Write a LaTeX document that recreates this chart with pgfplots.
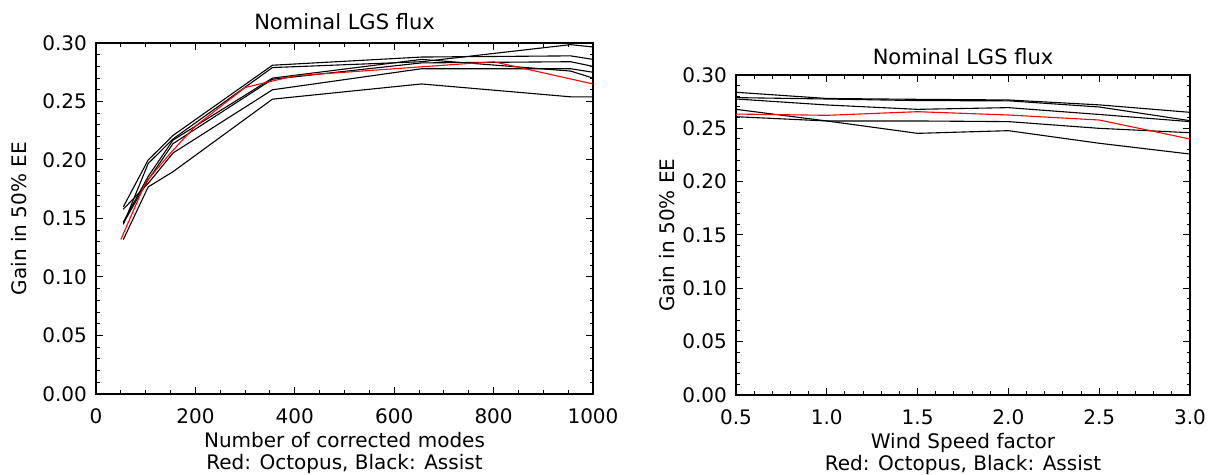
\documentclass[border=0pt]{standalone}
\usepackage{pgfplots}
\pgfplotsset{compat=1.18}
\usepackage{fontspec}
\setmainfont{DejaVu Sans}
\begin{document}
\begin{tikzpicture}
\useasboundingbox (0,0) rectangle (606pt,-237.5pt);
\pgfplotsset{
  idl/.style={
    scale only axis,
    anchor=south west,
    axis line style={line width=0.6pt},
    tick align=inside,
    major tick length=3.5pt,
    minor tick length=1.75pt,
    every tick/.style={black, line width=0.5pt},
    tick label style={font=\fontsize{10}{12}\selectfont},
    /pgf/number format/assume math mode=true,
    /pgf/number format/1000 sep={},
    ymin=0, ymax=0.30,
    ytick={0,0.05,...,0.30},
    minor ytick={0,0.01,...,0.30},
    yticklabel style={/pgf/number format/fixed,/pgf/number format/fixed zerofill,/pgf/number format/precision=2, xshift=-1pt},
    xticklabel style={yshift=-4pt},
    scaled y ticks=false,
    title style={font=\fontsize{10.5}{12}\selectfont},
    label style={font=\fontsize{10}{11}\selectfont},
    xlabel style={align=center, yshift=3pt},
    every axis plot/.style={line width=0.55pt, mark=none},
  }
}
\begin{axis}[idl,
  at={(48pt,-197pt)}, width=248.5pt, height=175.5pt,
  xmin=0, xmax=1000,
  xtick={0,200,...,1000},
  minor xtick={0,50,...,1000},
  title={Nominal LGS flux},
  title style={yshift=-3pt},
  xlabel={Number of corrected modes\\Red: Octopus, Black: Assist},
  ylabel={Gain in 50\% EE},
  ylabel style={yshift=1pt},
]
\addplot[black] coordinates {(55,0.160)(105,0.200)(155,0.221)(355,0.281)(655,0.288)(955,0.289)(1000,0.286)};
\addplot[black] coordinates {(55,0.145)(105,0.197)(155,0.218)(355,0.279)(655,0.284)(955,0.2986)(1000,0.2966)};
\addplot[black] coordinates {(55,0.147)(105,0.186)(155,0.217)(355,0.270)(655,0.286)(955,0.276)(1000,0.270)};
\addplot[black] coordinates {(55,0.146)(105,0.183)(155,0.214)(355,0.269)(655,0.283)(955,0.284)(1000,0.280)};
\addplot[black] coordinates {(55,0.158)(105,0.180)(155,0.206)(355,0.260)(655,0.278)(955,0.278)(1000,0.275)};
\addplot[black] coordinates {(55,0.132)(105,0.177)(155,0.190)(355,0.252)(655,0.265)(955,0.254)(1000,0.254)};
\addplot[red] coordinates {(50,0.132)(100,0.181)(150,0.206)(200,0.229)(300,0.262)(350,0.267)(400,0.272)(800,0.284)(1000,0.265)};
\end{axis}
\begin{axis}[idl,
  at={(368pt,-197.5pt)}, width=227pt, height=160pt,
  xmin=0.5, xmax=3.0,
  xtick={0.5,1.0,...,3.0},
  minor xtick={0.5,0.6,...,3.0},
  xticklabel style={/pgf/number format/fixed,/pgf/number format/fixed zerofill,/pgf/number format/precision=1},
  title={Nominal LGS flux},
  title style={yshift=-4.5pt},
  xlabel={Wind Speed factor\\Red: Octopus, Black: Assist},
  ylabel={Gain in 50\% EE},
  ylabel style={yshift=-3pt},
]
\addplot[black] coordinates {(0.5,0.2838)(1.0,0.2780)(1.5,0.2772)(2.0,0.2766)(2.5,0.2720)(3.0,0.2650)};
\addplot[black] coordinates {(0.5,0.2788)(1.0,0.2775)(1.5,0.2760)(2.0,0.2758)(2.5,0.2700)(3.0,0.2572)};
\addplot[black] coordinates {(0.5,0.2775)(1.0,0.2719)(1.5,0.2678)(2.0,0.2694)(2.5,0.2630)(3.0,0.2563)};
\addplot[black] coordinates {(0.5,0.2678)(1.0,0.2569)(1.5,0.2453)(2.0,0.2478)(2.5,0.2360)(3.0,0.2259)};
\addplot[black] coordinates {(0.5,0.2609)(1.0,0.2569)(1.5,0.2569)(2.0,0.2563)(2.5,0.2500)(3.0,0.2459)};
\addplot[red] coordinates {(0.5,0.2634)(1.0,0.2622)(1.5,0.2656)(2.0,0.2625)(2.5,0.2578)(3.0,0.2400)};
\end{axis}
\end{tikzpicture}
\end{document}
